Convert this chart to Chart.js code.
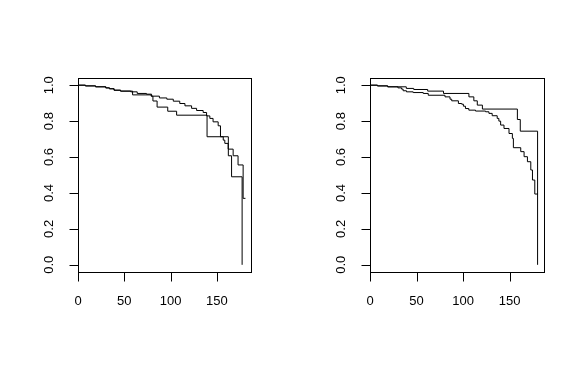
<!DOCTYPE html>
<html>
<head>
<meta charset="utf-8">
<script src="https://cdn.jsdelivr.net/npm/chart.js@4/dist/chart.umd.min.js"></script>
<style>
  html, body { margin: 0; padding: 0; background: #ffffff; }
  #wrap { position: relative; width: 584px; height: 371px; overflow: hidden; }
  canvas { position: absolute; top: 0; }
  #c1 { left: 0; }
  #c2 { left: 292px; }
</style>
</head>
<body>
<div id="wrap">
  <canvas id="c1" width="292" height="371"></canvas>
  <canvas id="c2" width="292" height="371"></canvas>
</div>
<script>
// ---- Data ----
const xTicks = [0, 50, 100, 150];
const yTicks = [0.0, 0.2, 0.4, 0.6, 0.8, 1.0];
const yTickLabels = ["0.0", "0.2", "0.4", "0.6", "0.8", "1.0"];

// Left panel, curve A (ends at 0)
const leftTimeA = [0, 8, 19, 30, 34, 39, 46, 59, 79, 81, 85.5, 97, 106.6, 139.5, 162.5, 166, 177.4];
const leftSurvA = [1.0, 0.996, 0.991, 0.985, 0.98, 0.972, 0.967, 0.946, 0.939, 0.912, 0.878, 0.855, 0.833, 0.713, 0.607, 0.49, 0.0];

// Left panel, curve B (censored at end)
const leftTimeB = [0, 8, 19, 30, 34, 39, 46, 57, 64, 74, 79.5, 88, 96, 103, 110, 115.6, 122.8, 128.2, 135.3, 139, 142.5, 146, 151.5, 154, 157, 158.7, 162.3, 167.7, 173, 178.5, 181];
const leftSurvB = [1.0, 0.996, 0.991, 0.985, 0.98, 0.972, 0.967, 0.963, 0.954, 0.95, 0.939, 0.929, 0.922, 0.911, 0.898, 0.885, 0.871, 0.859, 0.848, 0.829, 0.815, 0.796, 0.774, 0.713, 0.694, 0.676, 0.644, 0.607, 0.556, 0.37, 0.37];

// Right panel, curve C (few steps, ends at 0)
const rightTimeC = [0, 8, 19, 39, 47, 62, 79, 106.3, 111.6, 115.3, 120.8, 158.4, 161.5, 180.1];
const rightSurvC = [1.0, 0.996, 0.991, 0.982, 0.976, 0.967, 0.954, 0.935, 0.913, 0.889, 0.867, 0.809, 0.744, 0.0];

// Right panel, curve D (many steps, censored at end)
const rightTimeD = [0, 8, 19, 30, 34, 35.6, 39.2, 46.4, 57.2, 62.6, 80.6, 86, 87.8, 95, 98.6, 100.4, 102.6, 106.2, 113.4, 124.2, 127.8, 131.3, 136.7, 138.5, 140.4, 144, 149.4, 153, 154.1, 162, 165.6, 169.2, 172.8, 174.6, 177.1, 180.6];
const rightSurvD = [1.0, 0.996, 0.991, 0.985, 0.978, 0.969, 0.963, 0.959, 0.954, 0.944, 0.935, 0.922, 0.913, 0.898, 0.894, 0.883, 0.87, 0.861, 0.856, 0.852, 0.843, 0.83, 0.815, 0.8, 0.778, 0.759, 0.731, 0.704, 0.652, 0.63, 0.602, 0.574, 0.528, 0.472, 0.394, 0.394];

const xMax = 187;

function toPoints(ts, ss) { return ts.map((t, i) => ({ x: t, y: ss[i] })); }

const FONT = '13px "Liberation Sans", Arial, sans-serif';

const rAxesPlugin = {
  id: 'rAxes',
  afterDraw(chart) {
    const ctx = chart.ctx;
    const a = chart.chartArea;
    const xs = chart.scales.x, ys = chart.scales.y;
    ctx.save();
    ctx.strokeStyle = '#000';
    ctx.lineWidth = 1;
    // box
    ctx.strokeRect(Math.round(a.left) + 0.5, Math.round(a.top) + 0.5,
                   Math.round(a.right - a.left), Math.round(a.bottom - a.top));
    const tl = 9;
    // x axis ticks
    ctx.beginPath();
    xTicks.forEach(v => {
      const px = Math.round(xs.getPixelForValue(v)) + 0.5;
      ctx.moveTo(px, Math.round(a.bottom) + 0.5);
      ctx.lineTo(px, Math.round(a.bottom) + 0.5 + tl);
    });
    // y axis ticks
    yTicks.forEach(v => {
      const py = Math.round(ys.getPixelForValue(v)) + 0.5;
      ctx.moveTo(Math.round(a.left) + 0.5, py);
      ctx.lineTo(Math.round(a.left) + 0.5 - tl, py);
    });
    ctx.stroke();
    ctx.fillStyle = '#000';
    ctx.font = FONT;
    ctx.textAlign = 'center';
    ctx.textBaseline = 'middle';
    xTicks.forEach(v => {
      ctx.fillText(String(v), xs.getPixelForValue(v), a.bottom + 29);
    });
    yTicks.forEach((v, i) => {
      ctx.save();
      ctx.translate(a.left - 29, ys.getPixelForValue(v));
      ctx.rotate(-Math.PI / 2);
      ctx.fillText(yTickLabels[i], 0, 0);
      ctx.restore();
    });
    ctx.restore();
  }
};

function makeChart(id, series, padRight) {
  new Chart(document.getElementById(id), {
    type: 'scatter',
    data: {
      datasets: series.map(s => ({
        data: toPoints(s[0], s[1]),
        showLine: true,
        stepped: 'before',
        borderColor: '#000',
        borderWidth: 1,
        pointRadius: 0,
        fill: false
      }))
    },
    options: {
      responsive: false,
      animation: false,
      devicePixelRatio: 1,
      layout: { padding: { left: 78, right: padRight, top: 78, bottom: 99 } },
      plugins: { legend: { display: false }, tooltip: { enabled: false } },
      scales: {
        x: { type: 'linear', min: 0, max: xMax, display: false },
        y: { type: 'linear', min: -0.04, max: 1.04, display: false }
      }
    },
    plugins: [rAxesPlugin]
  });
}

makeChart('c1', [[leftTimeA, leftSurvA], [leftTimeB, leftSurvB]], 41);
makeChart('c2', [[rightTimeC, rightSurvC], [rightTimeD, rightSurvD]], 40);
</script>
</body>
</html>
